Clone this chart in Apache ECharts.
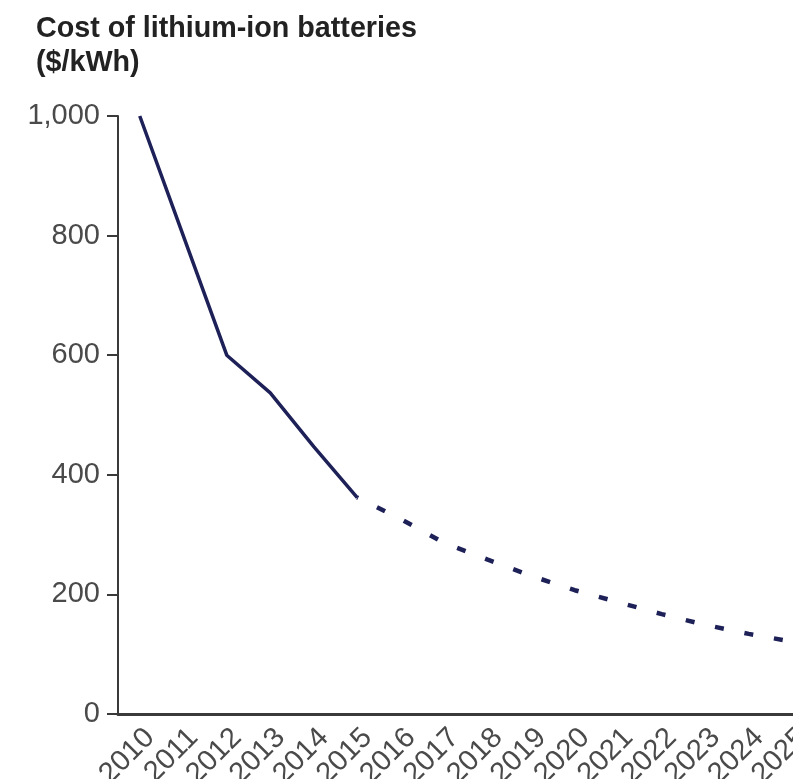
<!DOCTYPE html>
<html>
<head>
<meta charset="utf-8">
<script src="https://cdn.jsdelivr.net/npm/echarts@6/dist/echarts.min.js"></script>
<style>
html,body{margin:0;padding:0;background:#fff;overflow:hidden;width:793px;height:779px;}
#chart{width:814px;height:779px;}
</style>
</head>
<body>
<div id="chart"></div>
<script>
const years = ['2010','2011','2012','2013','2014','2015','2016','2017','2018','2019','2020','2021','2022','2023','2024','2025'];
const actualCost = [1000, 800, 600, 537, 447, 362, null, null, null, null, null, null, null, null, null, null];
const projectedCost = [null, null, null, null, null, 362, 326, 286, 258, 231, 207, 187, 167, 149, 134, 121];
const yTicks = [0, 200, 400, 600, 800, 1000];

const chart = echarts.init(document.getElementById('chart'), null, {renderer: 'canvas'});
const lineColor = '#1e2158';
chart.setOption({
  animation: false,
  backgroundColor: '#ffffff',
  title: {
    text: 'Cost of lithium-ion batteries\n($/kWh)',
    left: 31,
    top: 7,
    textStyle: {
      fontFamily: 'Liberation Sans, Arial, sans-serif',
      fontWeight: 'bold',
      fontSize: 28.7,
      lineHeight: 34,
      color: '#222222'
    }
  },
  grid: {
    left: 118,
    top: 116,
    bottom: 65,
    right: 0,
    outerBoundsMode: 'none',
    containLabel: false
  },
  xAxis: {
    type: 'category',
    data: years,
    boundaryGap: true,
    axisLine: {lineStyle: {color: '#3a3a3a', width: 3}},
    axisTick: {show: false},
    axisLabel: {
      interval: 0,
      rotate: 45,
      margin: 9,
      verticalAlign: 'top',
      fontFamily: 'Liberation Sans, Arial, sans-serif',
      fontSize: 29,
      color: '#4a4a4a'
    },
    splitLine: {show: false}
  },
  yAxis: {
    type: 'value',
    min: yTicks[0],
    max: yTicks[yTicks.length - 1],
    interval: 200,
    axisLine: {show: true, lineStyle: {color: '#3a3a3a', width: 2}},
    axisTick: {show: true, length: 11, lineStyle: {color: '#3a3a3a', width: 2}},
    axisLabel: {
      margin: 18,
      fontFamily: 'Liberation Sans, Arial, sans-serif',
      fontSize: 29,
      color: '#4a4a4a',
      formatter: v => v.toLocaleString('en-US')
    },
    splitLine: {show: false}
  },
  series: [
    {
      type: 'line',
      data: actualCost,
      showSymbol: false,
      symbol: 'none',
      lineStyle: {color: lineColor, width: 3.5}
    },
    {
      type: 'line',
      data: projectedCost,
      showSymbol: false,
      symbol: 'none',
      lineStyle: {color: lineColor, width: 4.5, type: [9, 21], dashOffset: -22}
    }
  ]
});
</script>
</body>
</html>
